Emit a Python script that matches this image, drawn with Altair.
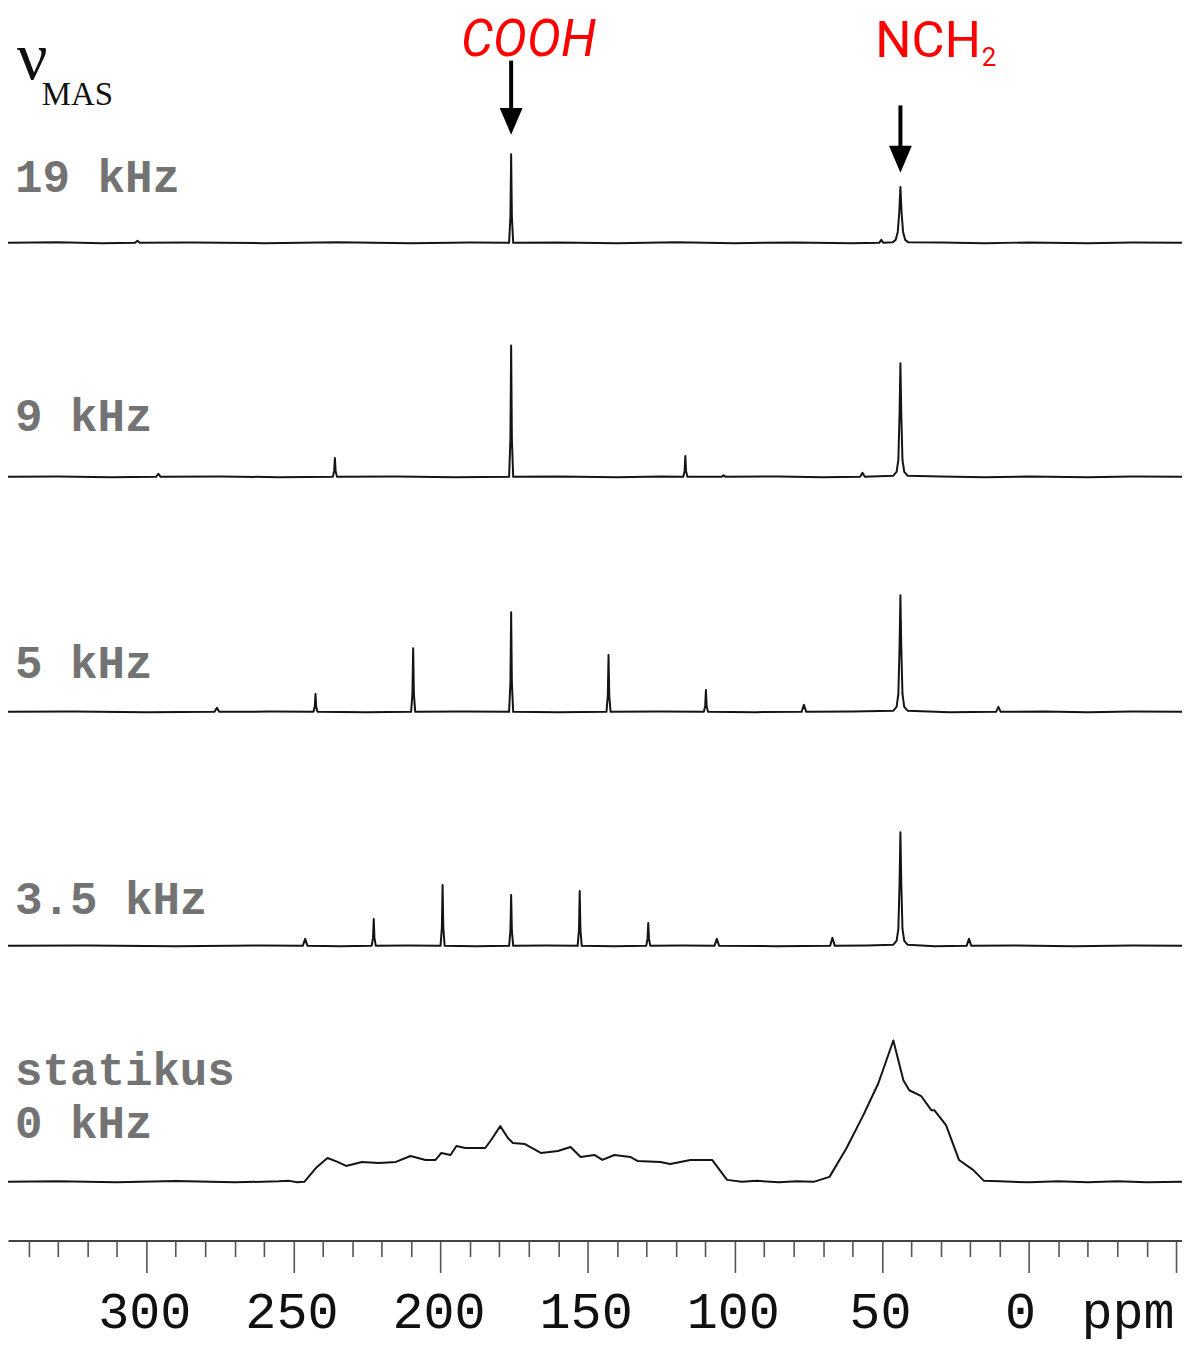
import altair as alt
import pandas as pd

# ---------------- data (chemical shift in ppm, intensity in arbitrary units) -------------
ppm_19 = [347, 330, 315, 303.8, 303.0, 302.2, 285, 260, 235, 210, 190,
          176.7, 176.25, 176.0, 175.75, 175.3, 160, 140, 120, 100, 80, 60,
          50.9, 50.2, 49.5, 46.4, 45.3, 44.6, 44.1, 43.7, 43.3, 42.8, 42.1, 41.0,
          30, 15, 0, -20, -35, -52]
int_19 = [0, 0.6, -0.4, 0, 2, 0, 0.4, -0.3, 0.5, -0.4, 0.3,
          0, 26, 89, 26, 0, 0.4, -0.4, 0.5, -0.3, 0.4, -0.3,
          0, 3, 0, 0.5, 3, 11, 30, 56, 30, 11, 3, 0.5,
          0.4, -0.3, 0.4, -0.4, 0.3, 0]

ppm_9 = [347, 330, 312, 296.7, 295.9, 295.1, 275, 255,
         236.6, 236.15, 235.9, 235.65, 235.2, 215, 195,
         176.7, 176.25, 176.0, 175.75, 175.3, 160, 140, 125,
         117.5, 117.05, 116.8, 116.55, 116.1, 104.5, 103.8, 103.1, 85, 70,
         57.4, 56.6, 55.8, 46.2, 45.0, 44.4, 44.0, 43.7, 43.4, 43.0, 42.4, 41.2,
         30, 15, 0, -20, -35, -52]
int_9 = [0, 0.4, -0.3, 0, 3, 0, 0.4, -0.3,
         0, 6, 19, 6, 0, 0.4, -0.3,
         0, 38, 132, 38, 0, 0.4, -0.4, 0.3,
         0, 6, 21, 6, 0, 0, 1.5, 0, 0.4, -0.3,
         0, 4, 0, 1, 5, 17, 62, 114, 62, 17, 5, 1,
         0.4, -0.3, 0.4, -0.4, 0.3, 0]

ppm_5 = [347, 325, 300, 276.8, 276.0, 275.2, 258,
         243.2, 242.75, 242.5, 242.25, 241.8, 225,
         210.0, 209.55, 209.3, 209.05, 208.6, 192,
         176.7, 176.25, 176.0, 175.75, 175.3, 160,
         143.6, 143.15, 142.9, 142.65, 142.2, 126,
         110.5, 110.05, 109.8, 109.55, 109.1, 93,
         77.3, 76.5, 75.7, 60,
         46.2, 45.0, 44.4, 44.0, 43.7, 43.4, 43.0, 42.4, 41.2, 27,
         11.2, 10.4, 9.6, -5, -20, -35, -52]
int_5 = [0, 0.4, -0.3, 0, 4, 0, 0.3,
         0, 5, 18, 5, 0, -0.3,
         0, 18, 64, 18, 0, 0.4,
         0, 29, 100, 29, 0, -0.3,
         0, 16, 57, 16, 0, 0.4,
         0, 6, 22, 6, 0, -0.3,
         0, 7, 0, 0.4,
         1, 5, 18, 64, 117, 64, 18, 5, 1, -0.3,
         0, 5, 0, 0.3, -0.4, 0.3, 0]

ppm_35 = [347, 320, 290, 262, 246.8, 246.0, 245.2, 234,
          223.4, 222.95, 222.7, 222.45, 222.0, 211,
          200.0, 199.55, 199.3, 199.05, 198.6, 188,
          176.7, 176.25, 176.0, 175.75, 175.3, 164,
          153.4, 152.95, 152.7, 152.45, 152.0, 141,
          130.1, 129.65, 129.4, 129.15, 128.7, 118,
          106.9, 106.1, 105.3, 86, 67.6, 66.8, 66.0, 55,
          46.2, 45.0, 44.4, 44.0, 43.7, 43.4, 43.0, 42.4, 41.2, 32,
          21.2, 20.4, 19.6, 5, -15, -35, -52]
int_35 = [0, 0.4, -0.3, 0.3, 0, 7, 0, -0.3,
          0, 8, 27, 8, 0, 0.3,
          0, 18, 61, 18, 0, -0.3,
          0, 15, 51, 15, 0, 0.3,
          0, 16, 55, 16, 0, -0.3,
          0, 7, 23, 7, 0, 0.3,
          0, 7, 0, -0.3, 0, 8, 0, 0.3,
          1, 5, 17, 62, 114, 62, 17, 5, 1, -0.3,
          0, 7, 0, 0.3, -0.4, 0.3, 0]

ppm_0 = [347, 330, 310, 290, 270, 255, 251.4, 248.7, 246.3, 242,
         238.4, 235, 232.1, 226.7, 221, 215.2,
         210.2, 205.1, 201.7, 199.7, 196.6, 194.6, 191.6,
         184.8, 182.8, 179.7, 177.1, 175.4, 171.3,
         165.9, 160.1, 155.8, 152.4, 147.7, 145.0, 140.9,
         135.5, 133.1, 125.3, 121.9, 115.1, 107.7,
         102.6, 97.6, 92.5, 85, 79, 73.2,
         67.8, 62.0, 56.3, 51.2, 46.1,
         42.7, 40.7, 36.6, 33.2, 32.2, 28.2,
         23.8, 19.0, 15.3, 10, 0, -10, -20, -30, -40, -52]
int_0 = [0, 0.5, -0.5, 0.8, -0.5, 0.5, 1, -0.5, 0, 15,
         24, 20, 16, 20, 19, 20,
         26, 22, 22, 29, 27, 36, 34,
         34, 42, 56, 44, 39, 38,
         29, 31, 35, 25, 27, 22, 27,
         25, 21, 20, 18, 22, 22,
         2, 0, 1, -0.5, 0.5, 0,
         5, 34, 67, 99, 142,
         102, 92, 86, 72, 72, 57,
         22, 12, 1, 0.5, -0.5, 0.5, -0.3, 0.5, -0.3, 0]

spectrum_labels = ["19 kHz", "9 kHz", "5 kHz", "3.5 kHz", "statikus", "0 kHz"]
major_ticks = [300, 250, 200, 150, 100, 50, 0, -50]
minor_ticks = [v for v in range(340, -50, -10) if v % 50 != 0]
peak_names = ["COOH", "NCH", "2"]
peak_ppm = [176.0, 43.7]

# ---------------- layout -------------
XDOM = [-52, 347]
W = 1179
H = [249, 235, 236, 235, 237]
BASE = 16
LINE = "#141414"
LABEL_GRAY = "#737373"

xscale = alt.Scale(domain=XDOM, reverse=True, nice=False, zero=False)


def line_layer(ppm, inten, h, sw=2.0, axis=None):
    df = pd.DataFrame({"ppm": ppm, "I": inten})
    return alt.Chart(df).mark_line(color=LINE, strokeWidth=sw, clip=True, strokeJoin="round").encode(
        x=alt.X("ppm:Q", scale=xscale, axis=axis),
        y=alt.Y("I:Q", scale=alt.Scale(domain=[-BASE, h - BASE], nice=False, zero=False), axis=None),
    )


def label_layer(text, y, x=7):
    return alt.Chart(pd.DataFrame({"t": [text]})).mark_text(
        font="Liberation Mono", fontSize=46, fontWeight="bold", color=LABEL_GRAY,
        align="left", baseline="alphabetic",
    ).encode(text="t:N", x=alt.value(x), y=alt.value(y))


def free_text(text, x, y, size, font, color="#111111", style="normal", align="left"):
    return alt.Chart(pd.DataFrame({"t": [text]})).mark_text(
        font=font, fontSize=size, fontStyle=style, color=color,
        align=align, baseline="alphabetic",
    ).encode(text="t:N", x=alt.value(x), y=alt.value(y))


def arrow(ppm, y0, y1, yhead):
    df = pd.DataFrame({"ppm": [ppm]})
    shaft = alt.Chart(df).mark_rule(color="black", strokeWidth=4).encode(
        x=alt.X("ppm:Q", scale=xscale, axis=None), y=alt.value(y0), y2=alt.value(y1)
    )
    head = alt.Chart(df).mark_point(
        shape="M-0.85,-1L0.85,-1L0,1Z", filled=True, size=729, color="black", opacity=1
    ).encode(x=alt.X("ppm:Q", scale=xscale, axis=None), y=alt.value(yhead))
    return shaft + head


# panel 1 : 19 kHz with annotations
p1 = alt.layer(
    line_layer(ppm_19, int_19, H[0]),
    label_layer(spectrum_labels[0], 182),
    free_text("ν", 9, 68, 68, "Liberation Serif"),
    free_text("MAS", 34, 95, 33, "Liberation Serif"),
    free_text(peak_names[0], 455, 45, 51, "Roboto", color="#ff0000", style="italic"),
    free_text(peak_names[1], 977, 46, 51, "Roboto", color="#ff0000", align="right"),
    free_text(peak_names[2], 978, 55, 26, "Roboto", color="#ff0000"),
    arrow(peak_ppm[0], 50, 102, 111),
    arrow(peak_ppm[1], 95, 140, 149),
).properties(width=W, height=H[0])

p2 = alt.layer(line_layer(ppm_9, int_9, H[1]), label_layer(spectrum_labels[1], 173)).properties(width=W, height=H[1])
p3 = alt.layer(line_layer(ppm_5, int_5, H[2]), label_layer(spectrum_labels[2], 186)).properties(width=W, height=H[2])
p4 = alt.layer(line_layer(ppm_35, int_35, H[3]), label_layer(spectrum_labels[3], 187)).properties(width=W, height=H[3])

major_axis = alt.Axis(
    values=major_ticks, orient="bottom", offset=43, tickSize=32, tickWidth=1.6, tickColor="#555555",
    domainColor="#444444", domainWidth=2, labelFont="Liberation Mono", labelFontSize=52,
    labelColor="#111111", labelPadding=14, labelExpr="datum.value == -50 ? 'ppm' : datum.label",
    labelOffset={"condition": {"test": "datum.value == 0", "value": -9}, "value": -2},
    labelFlush=10, labelOverlap=False, grid=False, title=None,
)
minor_axis = alt.Axis(
    values=minor_ticks, orient="bottom", offset=43, tickSize=16, tickWidth=1.6, tickColor="#555555",
    domain=False, labels=False, grid=False, title=None,
)
minor_layer = alt.Chart(pd.DataFrame({"ppm": minor_ticks})).mark_tick(opacity=0).encode(
    x=alt.X("ppm:Q", scale=xscale, axis=minor_axis)
)

p5 = alt.layer(
    line_layer(ppm_0, int_0, H[4], sw=2.0, axis=major_axis),
    minor_layer,
    label_layer(spectrum_labels[4], 124),
    label_layer(spectrum_labels[5], 177),
).resolve_axis(x="independent").properties(width=W, height=H[4])

chart = alt.vconcat(p1, p2, p3, p4, p5, spacing=0).properties(
    padding={"left": 0, "top": 0, "right": 0, "bottom": 8}
).configure_view(stroke=None)

chart.save("out.html", embed_options={"renderer": "svg", "actions": False})
